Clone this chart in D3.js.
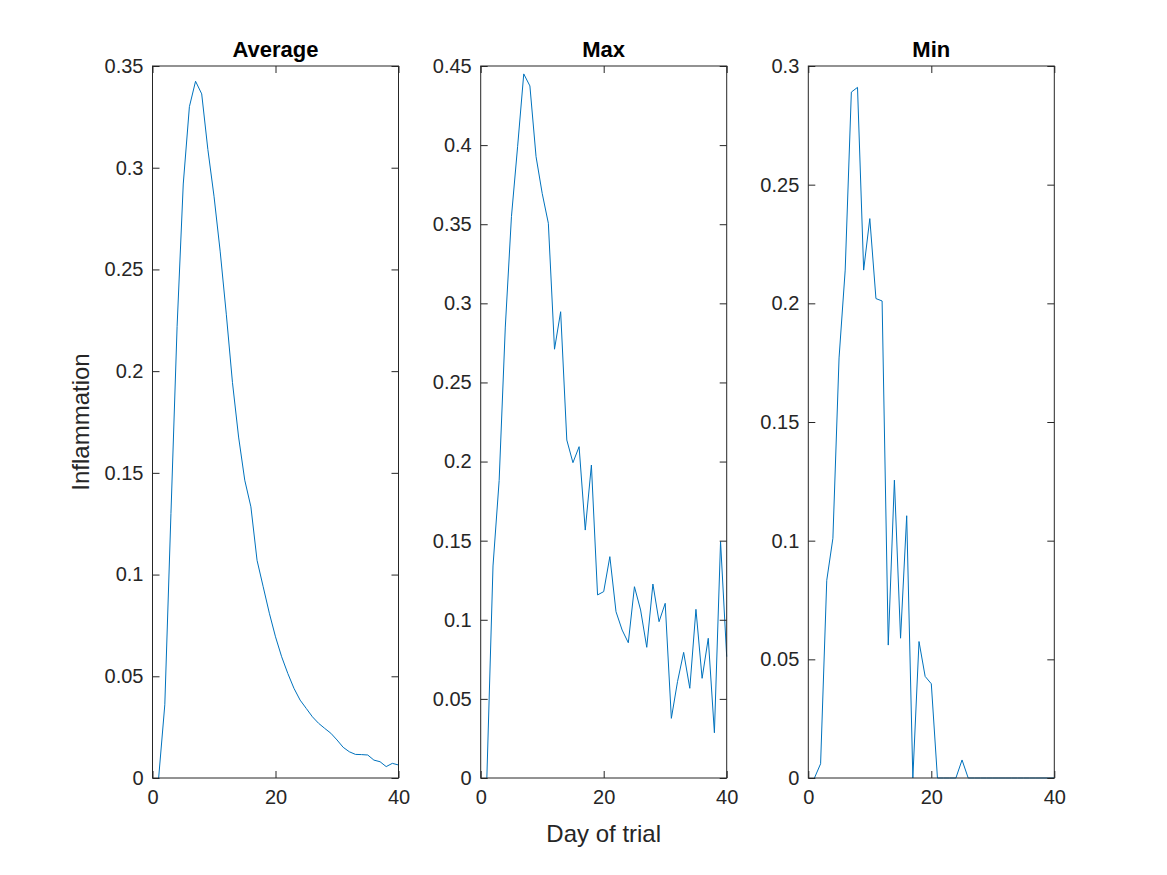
<!DOCTYPE html>
<html>
<head>
<meta charset="utf-8">
<script src="https://cdn.jsdelivr.net/npm/d3@7"></script>
<style>
  html, body { margin: 0; padding: 0; background: #fff; }
  svg { display: block; }
  text { font-family: "Liberation Sans", Arial, Helvetica, sans-serif; }
</style>
</head>
<body>
<svg id="chart" width="1167" height="875"></svg>
<script>
// ---- data (days 1..40) ----
const days = d3.range(1, 41);
const averageValues = [0, 0.036, 0.13, 0.222, 0.292, 0.330, 0.3425, 0.3363, 0.309, 0.286,
  0.259, 0.228, 0.1945, 0.1676, 0.1464, 0.1333, 0.107, 0.094, 0.081, 0.0694,
  0.0596, 0.0514, 0.0441, 0.0383, 0.0342, 0.0301, 0.0269, 0.0244, 0.022, 0.0187,
  0.0151, 0.0129, 0.0116, 0.0115, 0.0113, 0.0088, 0.008, 0.0056, 0.0072, 0.0064];
const maxValues = [0, 0.134, 0.188, 0.285, 0.3548, 0.399, 0.445, 0.4374, 0.3927, 0.3695,
  0.3506, 0.271, 0.2947, 0.2136, 0.1993, 0.2094, 0.1567, 0.1978, 0.1157, 0.1178,
  0.1399, 0.1051, 0.0935, 0.0855, 0.1209, 0.1062, 0.0826, 0.1226, 0.0988, 0.1104,
  0.0377, 0.0609, 0.0794, 0.0567, 0.1066, 0.063, 0.0883, 0.0286, 0.1494, 0.0767];
const minValues = [0, 0.006, 0.0833, 0.101, 0.177, 0.214, 0.289, 0.291, 0.214, 0.2357,
  0.202, 0.201, 0.056, 0.1255, 0.0589, 0.1105, 0, 0.0575, 0.0428, 0.0397,
  0, 0, 0, 0, 0.0076, 0, 0, 0, 0, 0,
  0, 0, 0, 0, 0, 0, 0, 0, 0, 0];
const panelTitles = ["Average", "Max", "Min"];
const yMaxes = [0.35, 0.45, 0.3];
const xTicks = [0, 20, 40];
const yTickStep = 0.05;
const xLabel = "Day of trial";
const yLabel = "Inflammation";

const series = [averageValues, maxValues, minValues];

// ---- layout ----
const panelLeft = [152.5, 480.7, 808.3];
const panelWidth = 246;
const plotTop = 66, plotBottom = 778;
const axisColor = "#262626";
const lineColor = "#0072BD";
const tickLen = 7;
const tickFont = "20px", titleFont = "22px", labelFont = "24px";

const svg = d3.select("#chart");

series.forEach((vals, i) => {
  const x0 = panelLeft[i], x1 = x0 + panelWidth;
  const x = d3.scaleLinear().domain([0, 40]).range([x0, x1]);
  const y = d3.scaleLinear().domain([0, yMaxes[i]]).range([plotBottom, plotTop]);
  const yt = d3.range(0, yMaxes[i] + 1e-9, yTickStep).map(v => +v.toFixed(2));
  const fmt = v => String(+v.toFixed(2));

  const g = svg.append("g");

  // line
  g.append("path")
    .datum(days.map((d, k) => [d, vals[k]]))
    .attr("fill", "none")
    .attr("stroke", lineColor)
    .attr("stroke-width", 1)
    .attr("d", d3.line().x(d => x(d[0])).y(d => y(d[1])));

  // axes
  const styleAxis = sel => {
    sel.select(".domain").remove();
    sel.selectAll("line").attr("stroke", axisColor).attr("stroke-width", 1);
    sel.selectAll("text").attr("fill", axisColor).style("font-size", tickFont);
  };
  g.append("g").attr("transform", `translate(${x0},0)`)
    .call(d3.axisLeft(y).tickValues(yt).tickFormat(fmt).tickSize(-tickLen).tickPadding(9))
    .call(styleAxis);
  g.append("g").attr("transform", `translate(${x1},0)`)
    .call(d3.axisRight(y).tickValues(yt).tickFormat("").tickSize(-tickLen))
    .call(styleAxis);
  g.append("g").attr("transform", `translate(0,${plotBottom})`)
    .call(d3.axisBottom(x).tickValues(xTicks).tickFormat(d3.format("d")).tickSize(-tickLen).tickPadding(12))
    .call(styleAxis);
  g.append("g").attr("transform", `translate(0,${plotTop})`)
    .call(d3.axisTop(x).tickValues(xTicks).tickFormat("").tickSize(-tickLen))
    .call(styleAxis);

  // box
  g.append("rect")
    .attr("x", x0).attr("y", plotTop)
    .attr("width", x1 - x0).attr("height", plotBottom - plotTop)
    .attr("fill", "none").attr("stroke", axisColor).attr("stroke-width", 1);

  // title
  g.append("text")
    .attr("x", (x0 + x1) / 2).attr("y", 57)
    .attr("text-anchor", "middle")
    .attr("fill", "#000")
    .style("font-size", titleFont).style("font-weight", "bold")
    .text(panelTitles[i]);
});

// y label
svg.append("text")
  .attr("transform", `translate(89,${(plotTop + plotBottom) / 2}) rotate(-90)`)
  .attr("text-anchor", "middle")
  .attr("fill", axisColor)
  .style("font-size", labelFont)
  .text(yLabel);

// x label
svg.append("text")
  .attr("x", panelLeft[1] + panelWidth / 2).attr("y", 842)
  .attr("text-anchor", "middle")
  .attr("fill", axisColor)
  .style("font-size", labelFont)
  .text(xLabel);
</script>
</body>
</html>
